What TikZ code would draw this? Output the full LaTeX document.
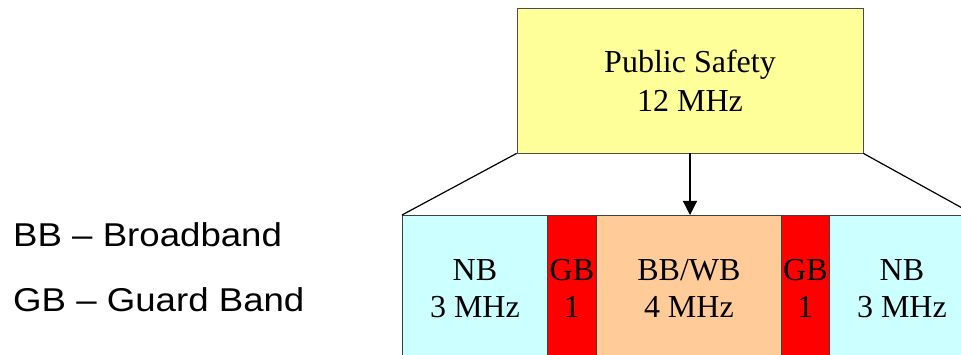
\documentclass[tikz,border=0pt]{standalone}
\usepackage{fontspec}
\setmainfont{Liberation Serif}
\newfontfamily\legendfont{Liberation Sans}
\usetikzlibrary{arrows.meta}
\definecolor{psyellow}{HTML}{FFFF99}
\definecolor{nbcyan}{HTML}{CCFFFF}
\definecolor{gbred}{HTML}{FF0000}
\definecolor{bbpeach}{HTML}{FFCC99}
\tikzset{
  band/.style={draw=black!75, line width=0.8pt, inner sep=0pt, minimum height=147pt,
    anchor=north west, align=center, font=\fontsize{32}{37}\selectfont},
  topbox/.style={draw=black!70, line width=0.8pt, fill=psyellow, inner sep=0pt,
    minimum width=346pt, minimum height=145pt, align=center,
    font=\fontsize{32}{39}\selectfont},
  legend/.style={anchor=base west, inner sep=0pt, font=\legendfont\fontsize{33}{37}\selectfont, xscale=1.11, transform shape},
  link/.style={line width=1.2pt, black}
}
\begin{document}
\begin{tikzpicture}[x=1pt,y=-1pt]
\useasboundingbox (0,0) rectangle (961,355);
\clip (0,0) rectangle (961,355);
\node[topbox] (ps) at (690,80.5) {Public Safety\\12 MHz};
\node[band, fill=nbcyan, minimum width=145pt] (nb1) at (402,215) {NB\\3 MHz};
\node[band, fill=gbred, minimum width=49pt] (gb1) at (547,215) {GB\\1};
\node[band, fill=bbpeach, minimum width=185pt] (bb) at (596,215) {BB/WB\\4 MHz};
\node[band, fill=gbred, minimum width=48pt] (gb2) at (781,215) {GB\\1};
\node[band, fill=nbcyan, minimum width=145pt] (nb2) at (829,215) {NB\\3 MHz};
\draw[link] (ps.south west) -- (nb1.north west);
\draw[link] (ps.south east) -- (nb2.north east);
\draw[link, -{Triangle[width=14pt,length=14pt]}] (ps.south) -- (ps.south |- bb.north);
\node[legend] (lbb) at (13,247) {BB – Broadband};
\node[legend] (lgb) at (13,312) {GB – Guard Band};
\end{tikzpicture}
\end{document}
